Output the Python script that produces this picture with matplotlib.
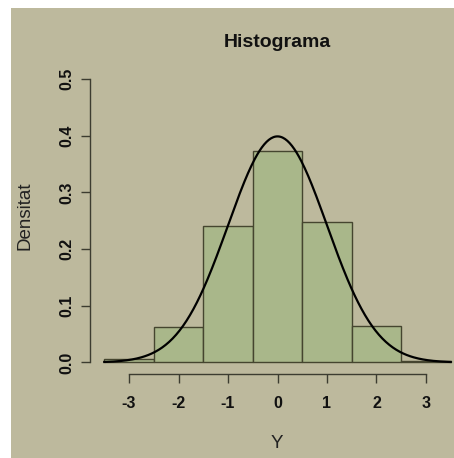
import numpy as np
import matplotlib.pyplot as plt
from matplotlib.patches import Rectangle

# histogram of Y (bin width 1) and the N(0,1) density drawn over it
bin_left = [-3.5, -2.5, -1.5, -0.5, 0.5, 1.5, 2.5]
densitat = [0.007, 0.062, 0.241, 0.373, 0.248, 0.065, 0.002]
mu, sigma = 0.0, 1.0
x_ticks = [-3, -2, -1, 0, 1, 2, 3]
y_ticks = [0.0, 0.1, 0.2, 0.3, 0.4, 0.5]

bg = '#bdb99d'
fill = '#a9b78a'
edge = '#45452f'
axcol = '#3c3c30'

plt.rcParams['font.family'] = ['Liberation Sans', 'DejaVu Sans']

fig = plt.figure(figsize=(4.54, 4.58), dpi=100, facecolor=bg)
# white margins of the scanned page
fig.patches.append(Rectangle((0, 1 - 8 / 458), 1, 8 / 458, transform=fig.transFigure,
                             facecolor='white', edgecolor='none', zorder=0))
fig.patches.append(Rectangle((0, 0), 11 / 454, 1, transform=fig.transFigure,
                             facecolor='white', edgecolor='none', zorder=0))

W, H = 454, 458
left, right, top, bottom = 90.4, 464.6, 67.8, 373.8
ax = fig.add_axes([left / W, (H - bottom) / H, (right - left) / W, (bottom - top) / H])
ax.set_facecolor('none')

ax.bar(bin_left, densitat, width=1, align='edge', color=fill, edgecolor=edge, linewidth=1.0)

xs = np.linspace(-3.5, 3.5, 300)
pdf = np.exp(-0.5 * ((xs - mu) / sigma) ** 2) / (sigma * np.sqrt(2 * np.pi))
ax.plot(xs, pdf, color='black', linewidth=1.6)

ax.set_xlim(-3.78, 3.78)
ax.set_ylim(-0.02, 0.52)

for s in ['top', 'right']:
    ax.spines[s].set_visible(False)
ax.spines['left'].set_bounds(0, 0.5)
ax.spines['bottom'].set_bounds(-3, 3)
for s in ['left', 'bottom']:
    ax.spines[s].set_color(axcol)
    ax.spines[s].set_linewidth(1.0)

ax.set_xticks(x_ticks)
ax.set_xticklabels([str(t) for t in x_ticks], fontweight='bold', fontsize=11.5)
ax.set_yticks(y_ticks)
ax.set_yticklabels([f'{t:.1f}' for t in y_ticks], fontweight='bold', fontsize=11.5,
                   rotation=90, va='center')
ax.tick_params(axis='both', length=6.8, width=1.0, color=axcol, labelcolor='#111111')
ax.tick_params(axis='x', pad=9)
ax.tick_params(axis='y', pad=5)

ax.set_title('Histograma', fontweight='bold', fontsize=14, pad=15, color='#111111')
fig.text(277 / W, 1 - 444 / H, 'Y', ha='center', va='center', fontsize=13.5, color='#222222')
fig.text(25 / W, 1 - 216 / H, 'Densitat', ha='center', va='center', rotation=90,
         fontsize=13.5, color='#222222')

fig.savefig('out.png', dpi=100, facecolor=bg)
